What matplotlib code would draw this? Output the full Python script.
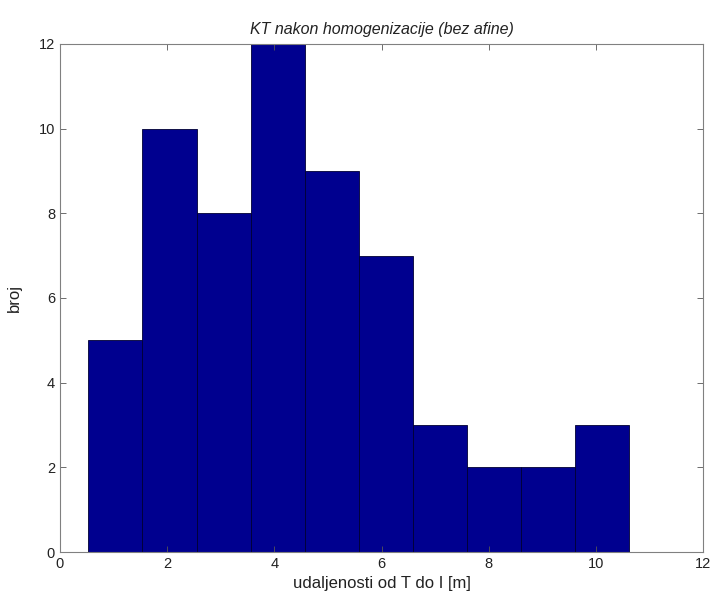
import matplotlib
matplotlib.use('Agg')
import matplotlib.pyplot as plt
import numpy as np

plt.rcParams['font.family'] = ['Liberation Sans', 'DejaVu Sans']

# histogram bins
bin_lo = 0.53
bin_hi = 10.62
counts = [5, 10, 8, 12, 9, 7, 3, 2, 2, 3]
xticks = [0, 2, 4, 6, 8, 10, 12]
yticks = [0, 2, 4, 6, 8, 10, 12]

edges = np.linspace(bin_lo, bin_hi, len(counts) + 1)
widths = np.diff(edges)

fig = plt.figure(figsize=(7.14, 6.0), dpi=100)
ax = fig.add_axes([0.084, 0.08, 0.901, 0.847])

ax.bar(edges[:-1], counts, width=widths, align='edge',
       color=(0, 0, 0.5625), edgecolor='#000033', linewidth=0.6)

ax.set_xlim(0, 12)
ax.set_ylim(0, 12)
ax.set_xticks(xticks)
ax.set_yticks(yticks)

ax.tick_params(axis='both', which='both', direction='in', length=4,
               top=True, right=True, labelsize=10.5, color='#555555',
               labelcolor='#222222', width=0.6)
for s in ax.spines.values():
    s.set_color('#808080')
    s.set_linewidth(0.8)

ax.set_xlabel('udaljenosti od T do I [m]', fontsize=12, labelpad=4, color='#222222')
ax.set_ylabel('broj', fontsize=12, labelpad=12, color='#222222')
ax.set_title('KT nakon homogenizacije (bez afine)', fontsize=11.5,
             style='italic', pad=7, color='#222222')

plt.savefig('out.png', dpi=100)
